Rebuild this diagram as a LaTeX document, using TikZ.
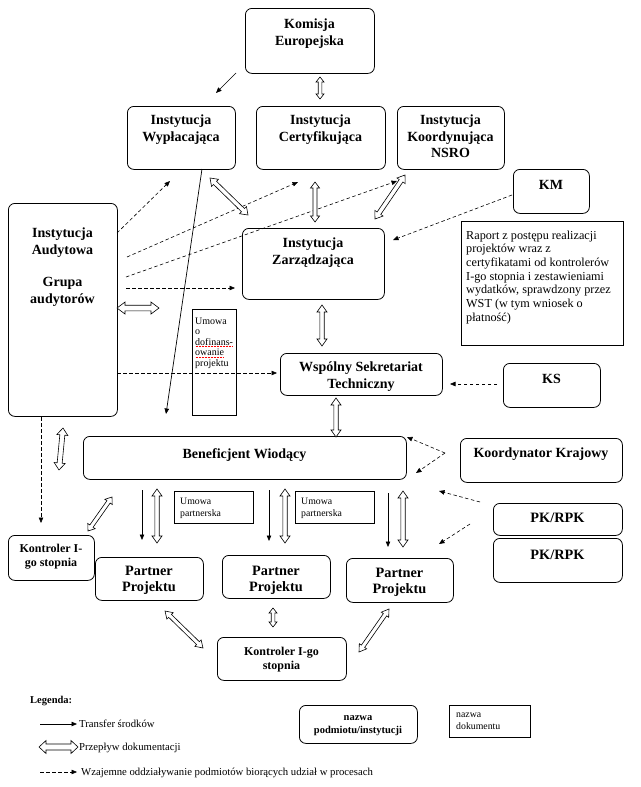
\documentclass[tikz,border=0pt]{standalone}
\usepackage{fontspec}
\setmainfont{Liberation Serif}
\usetikzlibrary{calc,arrows.meta}
\newcommand\FtTitle{\fontsize{14}{16.5}\selectfont\bfseries}
\newcommand\FtPart{\fontsize{14.3}{16}\selectfont\bfseries}
\newcommand\FtKon{\fontsize{12}{14.5}\selectfont\bfseries}
\newcommand\FtRap{\fontsize{12.2}{13.7}\selectfont}
\newcommand\FtUmo{\fontsize{10}{10.5}\selectfont}
\newcommand\FtSmall{\fontsize{9.8}{12}\selectfont}
\newcommand\FtLeg{\fontsize{10.7}{12}\selectfont}
\newcommand\FtLegB{\fontsize{10.5}{13}\selectfont\bfseries}
% box: name, style, x1, y1, x2, y2
\newcommand\bx[6]{\node[#2, minimum width={#5-#3}, minimum height={#6-#4}] (#1) at (#3,#4) {};}
% hollow double arrow: A, B, head half width, shaft half width, head length
\newcommand\hollowarrow[5]{%
  \coordinate (hwP) at ($(#1)!#5!(#2)$);
  \coordinate (hwQ) at ($(#2)!#5!(#1)$);
  \draw[hollowline] (#1) -- ($(hwP)!#3!90:(#2)$) -- ($(hwP)!#4!90:(#2)$)
    -- ($(hwQ)!#4!-90:(#1)$) -- ($(hwQ)!#3!-90:(#1)$) -- (#2)
    -- ($(hwQ)!#3!90:(#1)$) -- ($(hwQ)!#4!90:(#1)$)
    -- ($(hwP)!#4!-90:(#2)$) -- ($(hwP)!#3!-90:(#2)$) -- cycle;}
\begin{document}
\begin{tikzpicture}[x=1pt,y=-1pt,
  box/.style={draw, rounded corners=6.5pt, line width=0.8pt, inner sep=0pt, anchor=north west},
  sqbox/.style={draw, line width=0.7pt, inner sep=0pt, anchor=north west},
  ttl/.style={font=\FtTitle, align=center, inner sep=0pt, anchor=north},
  part/.style={font=\FtPart, align=center, inner sep=0pt, anchor=north},
  kon/.style={font=\FtKon, align=center, inner sep=0pt, anchor=north},
  rapt/.style={font=\FtRap, align=left, inner sep=0pt, anchor=north west},
  umo/.style={font=\FtUmo, align=left, inner sep=0pt, anchor=north west},
  ump/.style={font=\FtSmall, align=left, inner sep=0pt, anchor=north west},
  legt/.style={font=\FtLeg, inner sep=0pt, anchor=base west},
  tip/.style={-{Triangle[length=5.5pt,width=4.5pt]}},
  solidarrow/.style={tip, line width=0.7pt},
  dasharrow/.style={tip, line width=0.6pt, dash pattern=on 3.5pt off 2.5pt},
  hollowline/.style={draw, fill=white, line width=0.6pt, line join=miter}
]
\path[fill=white] (0,0) rectangle (640,787);
\useasboundingbox (0,0) rectangle (640,787);

% ---------- boxes ----------
\bx{ke}{box}{245}{8}{374}{73}
\node[ttl] (keT) at (309.5,19) {Komisja\\Europejska};
\bx{iw}{box}{127}{106}{235}{169}
\node[ttl] (iwT) at (181,115) {Instytucja\\Wypłacająca};
\bx{ic}{box}{256}{106}{385}{169}
\node[ttl] (icT) at (320.5,115) {Instytucja\\Certyfikująca};
\bx{ik}{box}{397}{106}{504}{169}
\node[ttl] (ikT) at (450.5,115) {Instytucja\\Koordynująca\\NSRO};
\bx{km}{box}{513}{169}{589}{213}
\node[ttl] (kmT) at (551,180) {KM};
\bx{rap}{sqbox}{461}{221}{623}{345}
\node[rapt] (rapT) at (466,230.5) {Raport z postępu realizacji\\projektów wraz z\\certyfikatami od kontrolerów\\I-go stopnia i zestawieniami\\wydatków, sprawdzony przez\\WST (w tym wniosek o\\płatność)};
\bx{ia}{box}{8}{203}{117}{416}
\node[ttl] (iaT) at (62.5,228) {Instytucja\\Audytowa\\[16pt]Grupa\\audytorów};
\bx{iz}{box}{242}{228}{384}{299}
\node[ttl] (izT) at (313,238) {Instytucja\\Zarządzająca};
\bx{wst}{box}{280}{353}{442}{395}
\node[ttl] (wstT) at (361,362) {Wspólny Sekretariat\\Techniczny};
\bx{ks}{box}{503}{363}{600}{407}
\node[ttl] (ksT) at (551.5,374) {KS};
\bx{udf}{sqbox}{192}{309}{236}{415}
\node[umo] (udfT) at (195,317.5) {Umowa\\o\\dofinans-\\owanie\\projektu};
\bx{bw}{box}{83}{436}{406}{479}
\node[ttl] (bwT) at (244.5,448) {Beneficjent Wiodący};
\bx{kk}{box}{460}{438}{622}{482}
\node[ttl] (kkT) at (541,448) {Koordynator Krajowy};
\bx{pka}{box}{493}{503}{622}{535}
\node[part] (pkaT) at (557.5,513) {PK/RPK};
\bx{pkb}{box}{493}{538}{622}{582}
\node[part] (pkbT) at (557.5,550) {PK/RPK};
\bx{upa}{sqbox}{174}{491}{253}{523}
\node[ump] (upaT) at (180,497.5) {Umowa\\partnerska};
\bx{upb}{sqbox}{295}{491}{374}{523}
\node[ump] (upbT) at (301,497.5) {Umowa\\partnerska};
\bx{kl}{box}{8}{535}{94}{580}
\node[kon] (klT) at (51,543.7) {Kontroler I-\\go stopnia};
\bx{ppa}{box}{95}{557}{203}{600}
\node[part] (ppaT) at (149,566) {Partner\\Projektu};
\bx{ppb}{box}{222}{555}{330}{598}
\node[part] (ppbT) at (276,566) {Partner\\Projektu};
\bx{ppc}{box}{346}{558}{453}{602}
\node[part] (ppcT) at (399.5,568) {Partner\\Projektu};
\bx{kb}{box}{217}{637}{346}{680}
\node[kon] (kbT) at (281.5,646.7) {Kontroler I-go\\stopnia};

% spell-check marks under "dofinans-" / "owanie"
\draw[red, densely dotted, line width=0.5pt] (195.5,346.5) -- (232,346.5);
\draw[red, densely dotted, line width=0.5pt] (195.5,357) -- (224,357);

% ---------- solid arrows (transfer) ----------
\coordinate (s1a) at (236,73);  \coordinate (s1b) at (216,93);
\coordinate (s2a) at (202,169); \coordinate (s2b) at (166,414);
\coordinate (s3a) at (142,490); \coordinate (s3b) at (142,540);
\coordinate (s4a) at (269,490); \coordinate (s4b) at (269,541);
\coordinate (s5a) at (388,493); \coordinate (s5b) at (388,547);
\draw[solidarrow] (s1a) -- (s1b);
\draw[solidarrow] (s2a) -- (s2b);
\draw[solidarrow] (s3a) -- (s3b);
\draw[solidarrow] (s4a) -- (s4b);
\draw[solidarrow] (s5a) -- (s5b);

% ---------- dashed arrows ----------
\coordinate (d1a) at (117,233); \coordinate (d1b) at (170,181);
\coordinate (d2a) at (127,257); \coordinate (d2b) at (298,182);
\coordinate (d3a) at (126,277); \coordinate (d3b) at (397,181);
\coordinate (d4a) at (126,288); \coordinate (d4b) at (235,288);
\coordinate (d5a) at (512,195); \coordinate (d5b) at (393,240);
\coordinate (d6a) at (117,373); \coordinate (d6b) at (277,373);
\coordinate (d7a) at (497,384); \coordinate (d7b) at (450,384);
\coordinate (d8a) at (41,417);  \coordinate (d8b) at (41,523);
\coordinate (d9a) at (445,453); \coordinate (d9b) at (407,437); \coordinate (d9c) at (416,473);
\coordinate (daa) at (480,502); \coordinate (dab) at (439,491);
\coordinate (dba) at (470,524); \coordinate (dbb) at (439,544);
\draw[dasharrow] (d1a) -- (d1b);
\draw[dasharrow] (d2a) -- (d2b);
\draw[dasharrow] (d3a) -- (d3b);
\draw[dasharrow] (d4a) -- (d4b);
\draw[dasharrow] (d5a) -- (d5b);
\draw[dasharrow] (d6a) -- (d6b);
\draw[dasharrow] (d7a) -- (d7b);
\draw[dasharrow] (d8a) -- (d8b);
\draw[dasharrow] (d9a) -- (d9b);
\draw[dasharrow] (d9a) -- (d9c);
\draw[dasharrow] (daa) -- (dab);
\draw[dasharrow] (dba) -- (dbb);

% ---------- hollow double arrows (documents) ----------
\coordinate (h1a) at (320,77);  \coordinate (h1b) at (320,99);
\coordinate (h2a) at (210,178); \coordinate (h2b) at (248,215);
\coordinate (h3a) at (315,182); \coordinate (h3b) at (315,222);
\coordinate (h4a) at (405,175); \coordinate (h4b) at (375,219);
\coordinate (h5a) at (117,308); \coordinate (h5b) at (159,308);
\coordinate (h6a) at (322,305); \coordinate (h6b) at (322,346);
\coordinate (h7a) at (336,398); \coordinate (h7b) at (336,437);
\coordinate (h8a) at (63,428);  \coordinate (h8b) at (59,470);
\coordinate (h9a) at (88,531);  \coordinate (h9b) at (112,497);
\coordinate (hAa) at (157,489); \coordinate (hAb) at (157,543);
\coordinate (hBa) at (285,489); \coordinate (hBb) at (285,543);
\coordinate (hCa) at (403,491); \coordinate (hCb) at (403,547);
\coordinate (hDa) at (165,611); \coordinate (hDb) at (203,648);
\coordinate (hEa) at (273,608); \coordinate (hEb) at (273,627);
\coordinate (hFa) at (389,609); \coordinate (hFb) at (359,652);
\hollowarrow{h1a}{h1b}{4pt}{1.8pt}{5pt}
\hollowarrow{h2a}{h2b}{5pt}{2.2pt}{7pt}
\hollowarrow{h3a}{h3b}{4.5pt}{2pt}{6pt}
\hollowarrow{h4a}{h4b}{5pt}{2.2pt}{7pt}
\hollowarrow{h5a}{h5b}{6pt}{2.8pt}{8pt}
\hollowarrow{h6a}{h6b}{5pt}{2.2pt}{7pt}
\hollowarrow{h7a}{h7b}{5pt}{2.2pt}{7pt}
\hollowarrow{h8a}{h8b}{5.5pt}{2.5pt}{7pt}
\hollowarrow{h9a}{h9b}{4.5pt}{2pt}{6pt}
\hollowarrow{hAa}{hAb}{5pt}{2.2pt}{7pt}
\hollowarrow{hBa}{hBb}{5pt}{2.2pt}{7pt}
\hollowarrow{hCa}{hCb}{5pt}{2.2pt}{7pt}
\hollowarrow{hDa}{hDb}{4.5pt}{2pt}{7pt}
\hollowarrow{hEa}{hEb}{4pt}{1.8pt}{5pt}
\hollowarrow{hFa}{hFb}{4.5pt}{2pt}{7pt}

% ---------- legend ----------
\node[font=\FtLegB, inner sep=0pt, anchor=base west] (legT) at (30,703) {Legenda:};
\coordinate (l1a) at (40,724); \coordinate (l1b) at (77,724);
\draw[solidarrow] (l1a) -- (l1b);
\node[legt] (l1T) at (79,727.5) {Transfer środków};
\coordinate (l2a) at (39,747); \coordinate (l2b) at (78,747);
\hollowarrow{l2a}{l2b}{6.5pt}{3pt}{7pt}
\node[legt] (l2T) at (79,750.5) {Przepływ dokumentacji};
\coordinate (l3a) at (40,772); \coordinate (l3b) at (77,772);
\draw[dasharrow] (l3a) -- (l3b);
\node[legt] (l3T) at (81,775.5) {Wzajemne oddziaływanie podmiotów biorących udział w procesach};
\bx{lga}{box}{299}{705}{417}{743}
\node[font=\FtLegB, align=center, inner sep=0pt, anchor=north] (lgaT) at (358,713.4) {\vphantom{N}nazwa\\podmiotu/instytucji};
\bx{lgb}{sqbox}{449}{705}{530}{737}
\node[ump] (lgbT) at (456,710.8) {\vphantom{N}nazwa\\dokumentu};
\end{tikzpicture}
\end{document}
